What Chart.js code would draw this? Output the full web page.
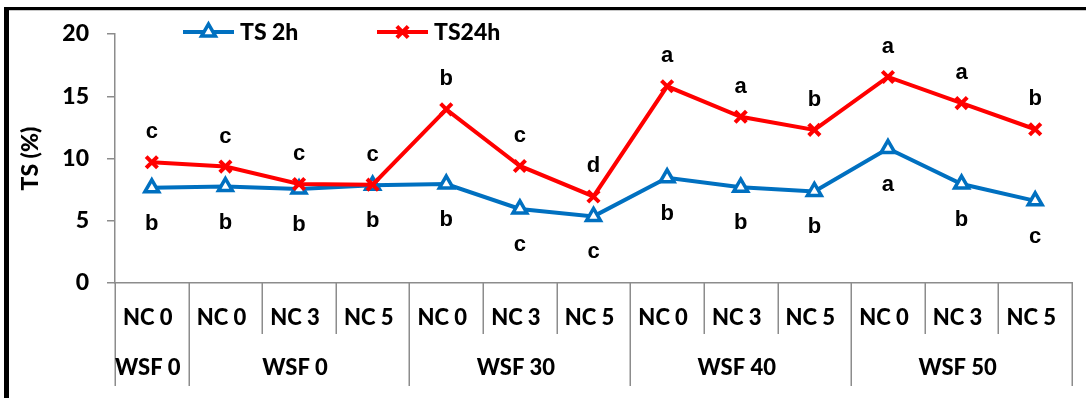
<!DOCTYPE html>
<html>
<head>
<meta charset="utf-8">
<script src="https://cdn.jsdelivr.net/npm/chart.js@4/dist/chart.umd.min.js"></script>
<style>
  html, body { margin: 0; padding: 0; background: #fff; }
  #wrap { width: 1086px; height: 398px; position: relative; }
  canvas { display: block; }
</style>
</head>
<body>
<div id="wrap"><canvas id="ts" width="1086" height="398"></canvas></div>
<script>
// Treatment categories (NC level) and their WSF groups
const categories = ['NC 0', 'NC 0', 'NC 3', 'NC 5', 'NC 0', 'NC 3', 'NC 5', 'NC 0', 'NC 3', 'NC 5', 'NC 0', 'NC 3', 'NC 5'];
const groupLabels = ['WSF 0', 'WSF 0', 'WSF 30', 'WSF 40', 'WSF 50'];
const groupSizes = [1, 3, 3, 3, 3];

// Thickness swelling (%) after 2 h and 24 h
const ts2h = [7.65, 7.75, 7.55, 7.85, 7.95, 5.95, 5.35, 8.45, 7.7, 7.35, 10.8, 7.95, 6.6];
const ts24h = [9.7, 9.35, 7.95, 7.9, 13.95, 9.4, 6.95, 15.8, 13.35, 12.3, 16.55, 14.45, 12.35];

// Significance letters
const letters2h = ['b', 'b', 'b', 'b', 'b', 'c', 'c', 'b', 'b', 'b', 'a', 'b', 'c'];
const letters24h = ['c', 'c', 'c', 'c', 'b', 'c', 'd', 'a', 'a', 'b', 'a', 'a', 'b'];

const yTicks = [0, 5, 10, 15, 20];

const BLUE = '#0070C0';
const RED = '#FF0000';
const AXIS_GREY = '#8c8c8c';
const LABEL_FONT = 'Lato, "Open Sans", sans-serif';
const LABEL_WEIGHT = '900';
const LETTER_FONT = '"Liberation Sans", Arial, sans-serif';

function markerPath(ctx, style, x, y, r) {
  ctx.beginPath();
  if (style === 'triangle') {
    let rad = 0;
    ctx.moveTo(x + Math.sin(rad) * r, y - Math.cos(rad) * r);
    rad += 2 * Math.PI / 3;
    ctx.lineTo(x + Math.sin(rad) * r, y - Math.cos(rad) * r);
    rad += 2 * Math.PI / 3;
    ctx.lineTo(x + Math.sin(rad) * r, y - Math.cos(rad) * r);
    ctx.closePath();
  } else {
    const d = r * Math.SQRT1_2;
    ctx.moveTo(x - d, y - d); ctx.lineTo(x + d, y + d);
    ctx.moveTo(x - d, y + d); ctx.lineTo(x + d, y - d);
  }
}

// Frame, category table under the x axis, significance letters and legend
const decorations = {
  id: 'decorations',
  afterDatasetsDraw(chart) {
    const ctx = chart.ctx;
    const x = chart.scales.x;
    const y = chart.scales.y;

    // letters above the 24 h points and below the 2 h points
    ctx.save();
    ctx.fillStyle = '#000';
    ctx.font = 'bold 22px ' + LETTER_FONT;
    ctx.textAlign = 'center';
    ctx.textBaseline = 'alphabetic';
    categories.forEach((c, i) => {
      const px = x.getPixelForValue(i);
      ctx.fillText(letters24h[i], px, y.getPixelForValue(ts24h[i]) - 24);
      ctx.fillText(letters2h[i], px, y.getPixelForValue(ts2h[i]) + 42);
    });
    ctx.restore();
  },
  afterDraw(chart) {
    const ctx = chart.ctx;
    const x = chart.scales.x;
    const area = chart.chartArea;
    const n = categories.length;

    // cell boundaries
    const bounds = [];
    for (let i = 0; i <= n; i++) {
      if (i === 0) bounds.push(area.left);
      else if (i === n) bounds.push(area.right);
      else bounds.push((x.getPixelForValue(i - 1) + x.getPixelForValue(i)) / 2);
    }
    const groupEdges = [0];
    groupSizes.forEach(s => groupEdges.push(groupEdges[groupEdges.length - 1] + s));

    const row1Bottom = area.bottom + 51;
    const row2Bottom = area.bottom + 103;

    ctx.save();
    ctx.strokeStyle = AXIS_GREY;
    ctx.lineWidth = 1.5;
    bounds.forEach((bx, i) => {
      const isGroup = groupEdges.includes(i);
      ctx.beginPath();
      ctx.moveTo(Math.round(bx) + 0.25, area.bottom);
      ctx.lineTo(Math.round(bx) + 0.25, isGroup ? row2Bottom : row1Bottom);
      ctx.stroke();
    });

    ctx.fillStyle = '#000';
    ctx.font = LABEL_WEIGHT + ' 22px ' + LABEL_FONT;
    ctx.textAlign = 'center';
    ctx.textBaseline = 'middle';
    categories.forEach((c, i) => {
      ctx.fillText(c, (bounds[i] + bounds[i + 1]) / 2 - 4, area.bottom + 35);
    });
    groupLabels.forEach((g, k) => {
      const l = bounds[groupEdges[k]];
      const r = bounds[groupEdges[k + 1]];
      ctx.fillText(g, (l + r) / 2 - 4, area.bottom + 85);
    });

    // outer frame
    ctx.fillStyle = '#000';
    ctx.fillRect(4, 7, chart.width - 4, 3);
    ctx.fillRect(4, 7, 5, chart.height - 7);
    ctx.fillStyle = '#c8c8c8';
    ctx.fillRect(9, 10, chart.width - 9, 1);

    // legend: line with marker, then series name
    const legendY = 32;
    chart.data.datasets.forEach((ds, k) => {
      const x0 = k === 0 ? 183 : 377;
      const x1 = x0 + 51;
      const mx = (x0 + x1) / 2;
      ctx.strokeStyle = ds.borderColor;
      ctx.lineWidth = ds.borderWidth;
      ctx.beginPath();
      ctx.moveTo(x0, legendY);
      ctx.lineTo(x1, legendY);
      ctx.stroke();
      ctx.fillStyle = ds.pointBackgroundColor;
      ctx.lineWidth = ds.pointBorderWidth;
      ctx.strokeStyle = ds.pointBorderColor;
      markerPath(ctx, ds.pointStyle, mx, legendY, ds.pointRadius);
      if (ds.pointStyle === 'triangle') ctx.fill();
      ctx.stroke();
      ctx.fillStyle = '#000';
      ctx.font = LABEL_WEIGHT + ' 23px ' + LABEL_FONT;
      ctx.textAlign = 'left';
      ctx.textBaseline = 'alphabetic';
      ctx.fillText(ds.label, x1 + 6, 40);
    });
    ctx.restore();
  }
};

new Chart(document.getElementById('ts'), {
  type: 'line',
  data: {
    labels: categories,
    datasets: [
      {
        label: 'TS 2h',
        data: ts2h,
        order: 1,
        borderColor: BLUE,
        borderWidth: 4,
        pointStyle: 'triangle',
        pointRadius: 8,
        pointBorderWidth: 3.5,
        pointBackgroundColor: '#ffffff',
        pointBorderColor: BLUE,
        tension: 0,
        clip: false
      },
      {
        label: 'TS24h',
        data: ts24h,
        order: 0,
        borderColor: RED,
        borderWidth: 4,
        pointStyle: 'crossRot',
        pointRadius: 8,
        pointBorderWidth: 4,
        pointBackgroundColor: RED,
        pointBorderColor: RED,
        tension: 0,
        clip: false
      }
    ]
  },
  options: {
    responsive: false,
    animation: false,
    devicePixelRatio: 1,
    layout: { padding: { left: 0, top: 34, right: 14, bottom: 0 } },
    plugins: {
      legend: { display: false },
      tooltip: { enabled: false },
      title: { display: false }
    },
    scales: {
      x: {
        type: 'category',
        offset: true,
        grid: { display: false },
        border: { display: true, color: AXIS_GREY, width: 1.5 },
        ticks: { display: false },
        afterFit(scale) { scale.height = 115; }
      },
      y: {
        min: 0,
        max: 20,
        afterBuildTicks(scale) { scale.ticks = yTicks.map(v => ({ value: v })); },
        grid: { drawOnChartArea: false, drawTicks: true, tickLength: 8, color: AXIS_GREY, lineWidth: 1.5 },
        border: { display: true, color: AXIS_GREY, width: 1.5 },
        ticks: {
          color: '#000',
          padding: 18,
          font: { family: LABEL_FONT, size: 23, weight: LABEL_WEIGHT }
        },
        title: {
          display: true,
          text: 'TS (%)',
          color: '#000',
          padding: { top: 17, bottom: 0 },
          font: { family: LABEL_FONT, size: 23, weight: LABEL_WEIGHT }
        },
        afterFit(scale) { scale.width = 115; }
      }
    }
  },
  plugins: [decorations]
});
</script>
</body>
</html>
